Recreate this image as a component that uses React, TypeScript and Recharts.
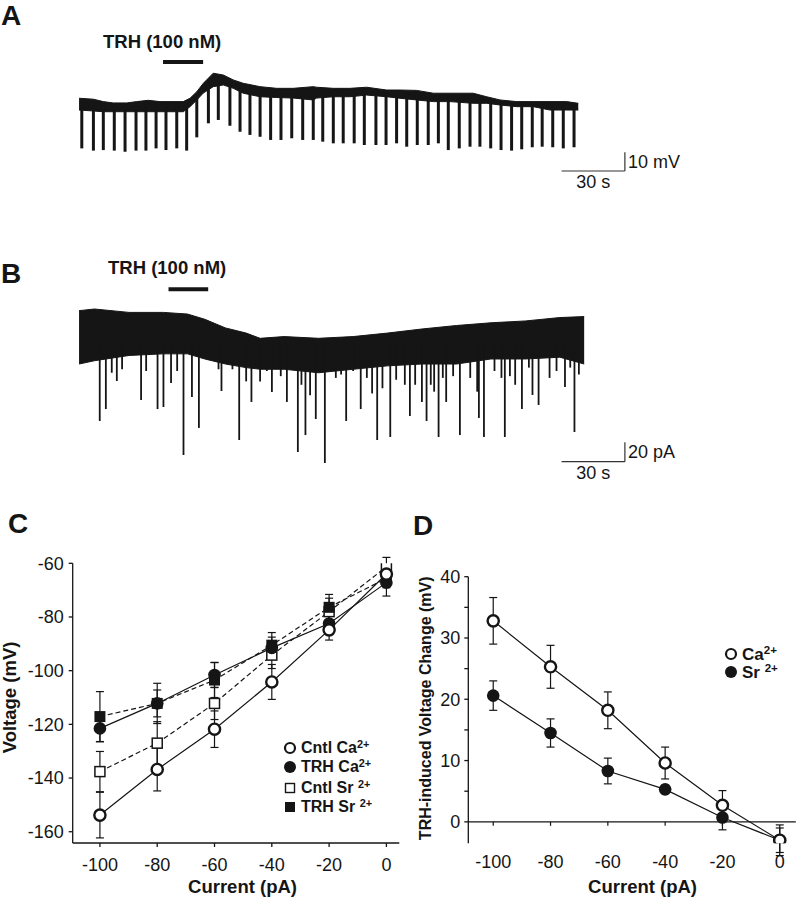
import React from "react";
import {
  ComposedChart,
  LineChart,
  Line,
  Area,
  Scatter,
  XAxis,
  YAxis,
  ErrorBar,
  ReferenceLine,
  Legend,
} from "recharts";

const FONT = '"Liberation Sans", Arial, Helvetica, sans-serif';
const INK = "#151515";

// ---------- A: current clamp, time (s) vs membrane potential (mV)
const aBandTime = [0.5, 7.3, 12.0, 16.7, 23.1, 27.8, 33.3, 38.9, 43.6, 49.9, 53.1, 56.3, 59.4, 64.1, 68.9, 73.6, 78.3, 86.3, 94.2, 102.0, 111.5, 113.1, 121.0, 128.9, 136.8, 146.3, 152.6, 160.5, 168.4, 176.3, 187.3, 193.7, 200.0, 207.9, 215.8, 223.7, 231.6, 237.1];
const aBandTop = [-56.4, -56.9, -58.2, -58.9, -58.9, -58.2, -57.5, -58.2, -58.2, -58.2, -56.4, -52.9, -48.4, -43.0, -44.0, -46.6, -48.4, -50.2, -51.1, -51.1, -50.2, -50.5, -51.1, -51.1, -50.5, -52.0, -52.0, -52.2, -53.7, -53.7, -53.7, -55.6, -57.3, -58.2, -58.2, -58.2, -58.2, -59.1];
const aBandBottom = [-62.7, -63.2, -63.6, -63.6, -63.6, -63.6, -63.6, -63.6, -63.6, -63.6, -60.9, -57.3, -53.6, -50.2, -49.3, -51.1, -53.7, -55.6, -56.0, -56.3, -57.3, -56.3, -55.6, -55.6, -54.7, -55.6, -56.4, -57.3, -58.2, -58.2, -59.1, -59.1, -60.0, -60.9, -60.9, -62.7, -62.7, -62.7];
// hyperpolarizing current steps: time, most negative potential, potential before the step
const aStepTime = [1.8, 7.3, 12.0, 17.2, 22.3, 27.5, 32.2, 37.0, 41.7, 46.8, 51.5, 56.3, 61.8, 66.5, 72.0, 76.8, 81.5, 86.3, 91.3, 96.2, 101.3, 106.5, 111.5, 116.0, 121.0, 125.7, 130.9, 135.7, 141.2, 146.0, 151.0, 155.8, 160.8, 166.0, 170.8, 175.5, 180.7, 185.8, 190.5, 195.6, 200.5, 205.5, 210.3, 215.3, 220.0, 225.0, 230.0, 235.1];
const aStepPeak = [-83.2, -84.4, -84.1, -84.4, -85.0, -84.4, -84.4, -83.2, -84.1, -83.2, -84.4, -77.3, -69.8, -68.0, -71.1, -74.3, -76.0, -77.0, -78.7, -78.7, -77.8, -78.7, -78.7, -79.6, -80.5, -80.5, -80.5, -81.4, -81.4, -81.4, -80.5, -82.3, -81.4, -81.4, -80.5, -84.1, -83.2, -82.3, -82.3, -83.2, -84.1, -84.4, -83.7, -82.6, -82.3, -82.6, -83.2, -82.6];
const aStepBase = [-60.5, -60.5, -60.5, -60.5, -60.5, -60.5, -60.5, -60.5, -60.5, -60.5, -60.5, -55.2, -48.2, -46.1, -48.2, -50.4, -52.0, -53.0, -53.6, -53.6, -53.6, -53.6, -53.6, -53.0, -53.0, -53.0, -53.0, -52.5, -52.5, -53.6, -53.6, -53.0, -53.0, -55.7, -55.7, -55.7, -56.3, -56.3, -56.3, -56.8, -58.4, -59.5, -59.5, -59.5, -59.5, -60.5, -60.5, -60.5];
const aDrug = [40.3, 59.3];

// ---------- B: voltage clamp, time (s) vs holding current (pA)
const bBandTime = [0.5, 7.8, 24.2, 40.5, 51.9, 60.1, 69.9, 79.7, 86.3, 97.7, 114.0, 130.4, 146.7, 163.0, 179.4, 195.7, 212.1, 228.4, 239.9];
const bBandTop = [-0.7, 1.0, -2.5, -2.5, -4.2, -9.6, -18.5, -23.8, -29.2, -27.4, -29.2, -27.4, -23.8, -19.6, -16.0, -13.2, -11.3, -7.8, -6.8];
const bBandBottom = [-55.7, -52.3, -46.9, -45.2, -45.2, -50.5, -55.7, -59.4, -61.1, -61.1, -64.7, -61.1, -57.6, -55.7, -55.7, -50.5, -50.5, -48.7, -55.7];
const bEventTime = [10.3, 13.2, 18.4, 29.9, 37.7, 40.5, 44.1, 50.0, 54.0, 57.3, 68.0, 76.4, 82.2, 91.9, 99.0, 104.2, 107.8, 112.7, 117.0, 127.1, 134.0, 141.8, 148.0, 157.3, 163.0, 165.2, 170.9, 174.5, 181.0, 190.0, 192.4, 202.3, 210.4, 215.4, 218.3, 230.8, 235.3,
  16.0, 20.9, 32.3, 47.0, 66.6, 73.2, 79.7, 86.3, 89.5, 96.1, 105.9, 110.0, 122.2, 124.7, 130.4, 136.9, 139.4, 144.3, 150.8, 154.9, 159.8, 167.2, 168.8, 172.9, 177.8, 185.9, 189.2, 197.4, 200.7, 204.7, 207.2, 213.7, 223.5, 226.8, 233.3, 237.4];
const bEventPeak = [-114.4, -102.1, -73.2, -92.8, -102.1, -100.0, -75.3, -149.5, -89.7, -121.6, -83.5, -134.0, -94.8, -84.5, -94.8, -146.4, -128.9, -112.4, -157.7, -114.4, -102.1, -134.0, -130.9, -109.3, -94.8, -114.4, -130.9, -94.8, -128.9, -111.3, -130.9, -130.9, -102.1, -87.6, -97.9, -79.4, -125.8,
  -64.7, -61.1, -62.9, -62.9, -61.1, -61.1, -73.6, -73.6, -62.9, -68.2, -77.1, -87.8, -70.0, -66.5, -62.9, -70.0, -86.0, -80.7, -71.9, -77.1, -77.1, -77.1, -84.2, -70.0, -68.2, -70.0, -84.2, -62.9, -70.0, -68.2, -77.1, -59.4, -70.0, -62.9, -59.4, -66.5];
const bEventOrigin = -35;
const bDrug = [42.9, 61.7];

// ---------- C: I-V relation (current pA vs voltage mV)
const currentSteps = [-100, -80, -60, -40, -20, 0];
const cntlCa = [-153.8, -136.8, -121.8, -104.2, -84.8, -64.0];
const cntlCaErr = [8.5, 8, 6.8, 6.5, 3.8, 3];
const trhCa = [-121.5, -112.2, -101.6, -91.5, -82.4, -67.2];
const trhCaErr = [5, 5, 4.7, 4, 4, 5];
const cntlSr = [-137.6, -127.0, -112.2, -94.2, -78.0, -61.3];
const cntlSrErr = [7.5, 8, 6, 5, 5, 3.5];
const trhSr = [-117.1, -112.2, -103.5, -90.5, -76.4, -65.6];
const trhSrErr = [9.3, 7.5, 6.5, 4.7, 4.8, 3.5];

// ---------- D: TRH-induced voltage change (mV)
const deltaCa = [32.8, 25.3, 18.2, 9.6, 2.7, -3.0];
const deltaCaErr = [3.8, 3.5, 3.0, 2.6, 2.4, 2.5];
const deltaSr = [20.6, 14.5, 8.3, 5.3, 0.7, -3.0];
const deltaSrErr = [2.4, 2.3, 2.1, 0.7, 2.0, 2.0];

const bandA = aBandTime.map((t, i) => ({ t, range: [aBandBottom[i], aBandTop[i]] }));
const stepsA = aStepTime.map((t, i) => ({ t, peak: aStepPeak[i], up: [0, aStepBase[i] - aStepPeak[i]] }));
const bandB = bBandTime.map((t, i) => ({ t, range: [bBandBottom[i], bBandTop[i]] }));
const eventsB = bEventTime.map((t, i) => ({ t, peak: bEventPeak[i], up: [0, bEventOrigin - bEventPeak[i]] }));

const dataC = currentSteps.map((current, i) => ({
  current,
  cntlCa: cntlCa[i], cntlCaErr: cntlCaErr[i],
  trhCa: trhCa[i], trhCaErr: trhCaErr[i],
  cntlSr: cntlSr[i], cntlSrErr: cntlSrErr[i],
  trhSr: trhSr[i], trhSrErr: trhSrErr[i],
}));
const dataD = currentSteps.map((current, i) => ({
  current,
  ca: deltaCa[i], caErr: deltaCaErr[i],
  sr: deltaSr[i], srErr: deltaSrErr[i],
}));

const tickFont = { fill: INK, fontSize: 18, fontFamily: FONT };
const titleFont = { fill: INK, fontSize: 18.5, fontFamily: FONT, fontWeight: 700 };

const OpenCircleDot = (p: any) => (
  <circle key={`oc-${p.index}`} cx={p.cx} cy={p.cy} r={5.6} fill="#fff" stroke={INK} strokeWidth={2.4} />
);
const FilledCircleDot = (p: any) => (
  <circle key={`fc-${p.index}`} cx={p.cx} cy={p.cy} r={6.3} fill={INK} />
);
const OpenSquareDot = (p: any) => (
  <rect key={`os-${p.index}`} x={p.cx - 5} y={p.cy - 5} width={10} height={10} fill="#fff" stroke={INK} strokeWidth={1.5} />
);
const FilledSquareDot = (p: any) => (
  <rect key={`fs-${p.index}`} x={p.cx - 5.5} y={p.cy - 5.5} width={11} height={11} fill={INK} />
);

function Marker({ kind }: { kind: string }) {
  return (
    <svg width={16} height={14} style={{ flex: "none", display: "block" }}>
      {kind === "openCircle" && <circle cx={8} cy={7} r={5} fill="#fff" stroke={INK} strokeWidth={2.2} />}
      {kind === "filledCircle" && <circle cx={8} cy={7} r={6} fill={INK} />}
      {kind === "openSquare" && <rect x={3.5} y={2.5} width={9} height={9} fill="#fff" stroke={INK} strokeWidth={1.4} />}
      {kind === "filledSquare" && <rect x={3} y={2} width={10} height={10} fill={INK} />}
    </svg>
  );
}

const legendC = [
  { kind: "openCircle", label: "Cntl Ca", gap: 0 },
  { kind: "filledCircle", label: "TRH Ca", gap: 0 },
  { kind: "openSquare", label: "Cntl Sr\u00a0", gap: 2 },
  { kind: "filledSquare", label: "TRH Sr\u00a0", gap: 0 },
];
const legendD = [
  { kind: "openCircle", label: "Ca", gap: 0 },
  { kind: "filledCircle", label: "Sr\u00a0", gap: 0 },
];

function LegendBox({ items, rowHeight, fontSize }: { items: typeof legendC; rowHeight: number; fontSize: number }) {
  return (
    <div style={{ fontFamily: FONT, fontWeight: 700, fontSize, color: INK }}>
      {items.map((it) => (
        <div key={it.label} style={{ display: "flex", alignItems: "center", height: rowHeight, marginTop: it.gap, whiteSpace: "nowrap" }}>
          <Marker kind={it.kind} />
          <span style={{ marginLeft: 3, lineHeight: 1 }}>
            {it.label}
            <sup style={{ fontSize: "0.68em", lineHeight: 0, verticalAlign: "0.5em" }}>2+</sup>
          </span>
        </div>
      ))}
    </div>
  );
}

type ScaleBar = { t0: number; t1: number; y0: number; y1: number; xLabel: string; yLabel: string };

function Trace(props: {
  left: number; top: number; height: number; yDomain: [number, number];
  band: any[]; events: any[]; eventWidth: number;
  drug: number[]; drugLevel: number; bar: ScaleBar;
}) {
  const { left, top, height, yDomain, band, events, eventWidth, drug, drugLevel, bar } = props;
  const barLabel = { fill: INK, fontSize: 18, fontFamily: FONT };
  return (
    <div style={{ position: "absolute", left, top }}>
      <ComposedChart width={622} height={height} data={band} margin={{ top: 0, right: 0, bottom: 0, left: 0 }}>
        <XAxis type="number" dataKey="t" domain={[0, 294.8]} hide allowDataOverflow />
        <YAxis type="number" domain={yDomain} hide allowDataOverflow />
        <Area
          type="linear"
          dataKey="range"
          stroke={INK}
          strokeWidth={1}
          fill={INK}
          fillOpacity={1}
          dot={false}
          activeDot={false}
          isAnimationActive={false}
        />
        <Scatter data={events} dataKey="peak" shape={() => <g />} isAnimationActive={false}>
          <ErrorBar dataKey="up" direction="y" width={0} stroke={INK} strokeWidth={eventWidth} />
        </Scatter>
        <ReferenceLine segment={[{ x: drug[0], y: drugLevel }, { x: drug[1], y: drugLevel }]} stroke={INK} strokeWidth={4} />
        <ReferenceLine
          segment={[{ x: bar.t0, y: bar.y0 }, { x: bar.t1, y: bar.y0 }]}
          stroke="#333"
          strokeWidth={1.2}
          label={{ value: bar.xLabel, position: "bottom", offset: 4, ...barLabel }}
        />
        <ReferenceLine
          segment={[{ x: bar.t1, y: bar.y0 }, { x: bar.t1, y: bar.y1 }]}
          stroke="#333"
          strokeWidth={1.2}
          label={{ value: bar.yLabel, position: "right", offset: 3, ...barLabel }}
        />
      </ComposedChart>
    </div>
  );
}

function IVChart() {
  return (
    <div style={{ position: "absolute", left: 0, top: 540 }}>
      <LineChart width={400} height={359} data={dataC} margin={{ top: 23.3, right: 0.7, bottom: 0, left: 0 }}>
        <XAxis
          type="number"
          dataKey="current"
          domain={[-109.5, 4.5]}
          ticks={currentSteps}
          interval={0}
          allowDataOverflow
          height={56}
          tickSize={4}
          tickMargin={11}
          tick={tickFont}
          axisLine={{ stroke: INK, strokeWidth: 1.3 }}
          tickLine={{ stroke: INK, strokeWidth: 1.3 }}
          label={{ value: "Current (pA)", position: "insideBottom", offset: 6, dx: 6.5, ...titleFont }}
        />
        <YAxis
          type="number"
          domain={[-164.2, -60]}
          ticks={[-160, -140, -120, -100, -80, -60]}
          interval={0}
          allowDataOverflow
          width={72.7}
          tickSize={4}
          tickMargin={5}
          tick={tickFont}
          axisLine={{ stroke: INK, strokeWidth: 1.3 }}
          tickLine={{ stroke: INK, strokeWidth: 1.3 }}
          label={{ value: "Voltage (mV)", angle: -90, position: "insideLeft", offset: 9.6, dy: -5.7, style: { textAnchor: "middle" }, ...titleFont }}
        />
        <Line type="linear" dataKey="cntlSr" stroke={INK} strokeWidth={1.2} strokeDasharray="5 3" dot={OpenSquareDot} isAnimationActive={false}>
          <ErrorBar dataKey="cntlSrErr" direction="y" width={4} stroke={INK} strokeWidth={1.2} />
        </Line>
        <Line type="linear" dataKey="trhSr" stroke={INK} strokeWidth={1.2} strokeDasharray="5 3" dot={FilledSquareDot} isAnimationActive={false}>
          <ErrorBar dataKey="trhSrErr" direction="y" width={4} stroke={INK} strokeWidth={1.2} />
        </Line>
        <Line type="linear" dataKey="trhCa" stroke={INK} strokeWidth={1.2} dot={FilledCircleDot} isAnimationActive={false}>
          <ErrorBar dataKey="trhCaErr" direction="y" width={4} stroke={INK} strokeWidth={1.2} />
        </Line>
        <Line type="linear" dataKey="cntlCa" stroke={INK} strokeWidth={1.2} dot={OpenCircleDot} isAnimationActive={false}>
          <ErrorBar dataKey="cntlCaErr" direction="y" width={4} stroke={INK} strokeWidth={1.2} />
        </Line>
        <Legend
          layout="vertical"
          align="center"
          verticalAlign="middle"
          wrapperStyle={{ left: 282, top: 198.8, width: 118 }}
          content={<LegendBox items={legendC} rowHeight={19} fontSize={16} />}
        />
      </LineChart>
    </div>
  );
}

function DeltaChart() {
  return (
    <div style={{ position: "absolute", left: 400, top: 540 }}>
      <LineChart width={396} height={359} data={dataD} margin={{ top: 36.7, right: 0.2, bottom: 0, left: 0 }}>
        <XAxis
          type="number"
          dataKey="current"
          domain={[-108.7, 5.6]}
          ticks={currentSteps}
          interval={0}
          allowDataOverflow
          height={55.7}
          tickSize={4}
          tickMargin={8}
          tick={tickFont}
          axisLine={false}
          tickLine={false}
          label={{ value: "Current (pA)", position: "insideBottom", offset: 6, dx: 10.5, ...titleFont }}
        />
        <YAxis
          type="number"
          domain={[-3.5, 40]}
          ticks={[0, 5, 10, 15, 20, 25, 30, 35, 40]}
          tickFormatter={(v: number) => (v % 10 === 0 ? String(v) : "")}
          interval={0}
          allowDataOverflow
          width={68.3}
          tickSize={4}
          tickMargin={4}
          tick={tickFont}
          axisLine={{ stroke: INK, strokeWidth: 1.3 }}
          tickLine={{ stroke: INK, strokeWidth: 1.3 }}
          label={{ value: "TRH-induced Voltage Change (mV)", angle: -90, position: "insideLeft", offset: 25.3, dy: -1.7, style: { textAnchor: "middle" }, ...titleFont, fontSize: 16 }}
        />
        <ReferenceLine y={0} stroke={INK} strokeWidth={1.3} />
        {currentSteps.slice(0, 5).map((c) => (
          <ReferenceLine key={c} segment={[{ x: c, y: 0 }, { x: c, y: -0.65 }]} stroke={INK} strokeWidth={1.2} />
        ))}
        <Line type="linear" dataKey="sr" stroke={INK} strokeWidth={1.2} dot={FilledCircleDot} isAnimationActive={false}>
          <ErrorBar dataKey="srErr" direction="y" width={4} stroke={INK} strokeWidth={1.2} />
        </Line>
        <Line type="linear" dataKey="ca" stroke={INK} strokeWidth={1.2} dot={OpenCircleDot} isAnimationActive={false}>
          <ErrorBar dataKey="caErr" direction="y" width={4} stroke={INK} strokeWidth={1.2} />
        </Line>
        <Legend
          layout="vertical"
          align="center"
          verticalAlign="middle"
          wrapperStyle={{ left: 323, top: 105, width: 72 }}
          content={<LegendBox items={legendD} rowHeight={18} fontSize={17} />}
        />
      </LineChart>
    </div>
  );
}

export default function App() {
  return (
    <div style={{ position: "absolute", left: 0, top: 0, width: 796, height: 899, background: "#fff", overflow: "hidden", fontFamily: FONT }}>
      <Trace
        left={78}
        top={50}
        height={150}
        yDomain={[-110.8, -30.6]}
        band={bandA}
        events={stepsA}
        eventWidth={3}
        drug={aDrug}
        drugLevel={-37.0}
        bar={{ t0: 229.2, t1: 259.2, y0: -95.3, y1: -85.3, xLabel: "30 s", yLabel: "10 mV" }}
      />
      <Trace
        left={78}
        top={280}
        height={215}
        yDomain={[-190.7, 30.9]}
        band={bandB}
        events={eventsB}
        eventWidth={1.8}
        drug={bDrug}
        drugLevel={21.3}
        bar={{ t0: 229.2, t1: 259.2, y0: -156.4, y1: -136.4, xLabel: "30 s", yLabel: "20 pA" }}
      />
      <IVChart />
      <DeltaChart />
      <svg width={796} height={899} style={{ position: "absolute", left: 0, top: 0, pointerEvents: "none" }}>
        <g fontFamily={FONT} fontWeight={700} fill={INK}>
          <text x={1} y={25} fontSize={28}>A</text>
          <text x={103} y={48} fontSize={18.5}>TRH (100 nM)</text>
          <text x={1} y={283} fontSize={28}>B</text>
          <text x={108} y={274} fontSize={18.5}>TRH (100 nM)</text>
          <text x={8} y={533} fontSize={28}>C</text>
          <text x={413} y={535} fontSize={28}>D</text>
        </g>
      </svg>
    </div>
  );
}
